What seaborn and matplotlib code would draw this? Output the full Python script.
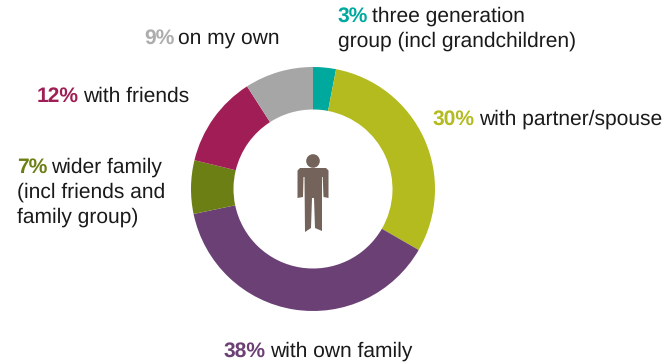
import matplotlib
matplotlib.use("Agg")
import matplotlib.pyplot as plt
from matplotlib.patches import Circle, Polygon
import seaborn as sns

sns.set_theme(style="white")
plt.rcParams["font.family"] = ["Liberation Sans", "DejaVu Sans"]
plt.rcParams["text.hinting"] = "no_hinting"
plt.rcParams["text.hinting_factor"] = 1

WIDTH, HEIGHT = 664, 364

percent_labels = ["3%", "30%", "38%", "7%", "12%", "9%"]
shares = [3, 30, 38, 7, 12, 9]
slice_colors = ["#00A99D", "#B3BB1E", "#6B4175", "#6B7F14", "#A01E55", "#A6A6A6"]
percent_colors = ["#00A99D", "#B3BB1E", "#6B4175", "#6B7F14", "#A01E55", "#ADADAD"]
first_lines = ["three generation", "with partner/spouse", "with own family",
               "wider family", "with friends", "on my own"]
extra_lines = [["group (incl grandchildren)"], [], [],
               ["(incl friends and", "family group)"], [], []]
label_lefts = [338, 433, 224, 17, 37, 144]
label_tops = [16, 119, 351, 167, 96, 38]
figure_color = "#73635A"
text_color = "#1A1A1A"
label_size = 14.9
line_gap = 25


def flip(y):
    """Convert a distance from the top edge to an axes y value."""
    return HEIGHT - y


fig = plt.figure(figsize=(WIDTH / 100, HEIGHT / 100), dpi=100, facecolor="white")
ax = fig.add_axes([0, 0, 1, 1])

# Donut ring, clockwise from twelve o'clock
ax.pie(shares, colors=slice_colors, startangle=90, counterclock=False,
       center=(313, flip(189)), radius=122, frame=True,
       wedgeprops=dict(width=42.5, edgecolor="none"))
ax.set_xlim(0, WIDTH)
ax.set_ylim(0, HEIGHT)
ax.set_aspect("equal")
ax.axis("off")

# Standing person pictogram in the middle of the ring
ax.add_patch(Circle((313, flip(161)), 6.8, color=figure_color, lw=0))
outline = [(300, 168), (326, 168), (328.5, 170.5), (328.5, 198), (323.5, 197),
           (322.7, 177), (322, 177), (322, 231), (315, 228), (314, 198), (312, 198),
           (311, 228), (305, 232), (304.5, 177), (303.5, 177), (303, 197),
           (297.5, 198), (297.5, 170.5)]
ax.add_patch(Polygon([(x, flip(y)) for x, y in outline], closed=True,
                     facecolor=figure_color, edgecolor="none"))

# Labels: coloured percentage, then plain text, then any continuation lines
renderer = fig.canvas.get_renderer()
for pct, pct_color, first, extras, x, y in zip(percent_labels, percent_colors, first_lines,
                                               extra_lines, label_lefts, label_tops):
    head = ax.text(x, flip(y), pct, color=pct_color, fontsize=label_size,
                   fontweight="bold", va="center", ha="left")
    right = head.get_window_extent(renderer).x1
    ax.text(right + 4, flip(y), first, color=text_color, fontsize=label_size,
            va="center", ha="left")
    for i, line in enumerate(extras, start=1):
        ax.text(x, flip(y + i * line_gap), line, color=text_color, fontsize=label_size,
                va="center", ha="left")

fig.savefig("out.png", dpi=100, facecolor="white")
